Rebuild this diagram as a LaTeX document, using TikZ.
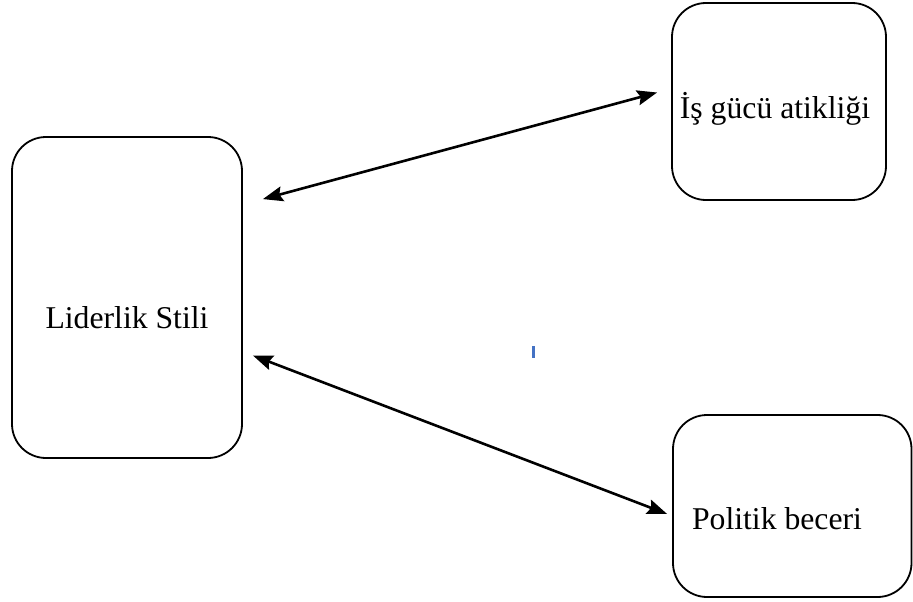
\documentclass[tikz,border=0pt]{standalone}
\usepackage{fontspec}
\setmainfont{Liberation Serif}
\usetikzlibrary{arrows.meta,calc}
\definecolor{markblue}{HTML}{4472C4}
\begin{document}
\begin{tikzpicture}[x=1pt, y=-1pt,
        box/.style = {rectangle, draw, line width=1.8pt, rounded corners=34pt},
        lbl/.style = {font=\fontsize{31.7}{38}\selectfont, anchor=base, inner sep=0pt},
        arr/.style = {{Stealth[length=20pt,width=15pt,inset=3pt]}-{Stealth[length=20pt,width=15pt,inset=3pt]},
                      line width=2.6pt}
    ]
    \useasboundingbox (0,0) rectangle (913,602);
    % boxes
    \node[box, minimum width=230pt, minimum height=321pt] (lid) at (127,297.5) {};
    \node[box, minimum width=214pt, minimum height=197pt] (isg) at (779,101.5) {};
    \node[box, minimum width=238.5pt, minimum height=182pt] (pol) at (792.25,506) {};
    % texts
    \node[lbl] (lidtxt) at (127,328) {Liderlik Stili};
    \node[lbl] (isgtxt) at (775,118) {İş gücü atikliği};
    \node[lbl] (poltxt) at (777,529) {Politik beceri};
    % arrow ends
    \coordinate (a1) at ($(lid.north east)+(20,63)$);
    \coordinate (b1) at ($(isg.west)+(-14,-9)$);
    \coordinate (a2) at ($(lid.east)+(10,58)$);
    \coordinate (b2) at ($(pol.west)+(-5,8)$);
    \draw[arr] (a1) -- (b1);
    \draw[arr] (a2) -- (b2);
    % small blue mark
    \fill[markblue] (531.5,346) rectangle (535,358);
\end{tikzpicture}
\end{document}
